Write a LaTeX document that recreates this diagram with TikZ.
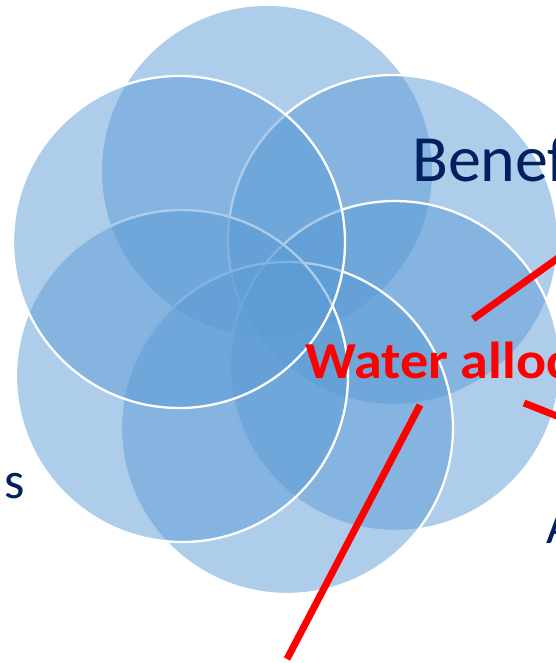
\documentclass[tikz,border=0pt]{standalone}
\usepackage{fontspec}
\setmainfont{Carlito}
\newfontfamily\widebold[FakeStretch=1.08]{Carlito}
\definecolor{petalblue}{HTML}{5B9BD5}
\definecolor{navy}{HTML}{002060}
\begin{document}
\begin{tikzpicture}[x=1pt,y=-1pt,
  petal/.style={fill=petalblue, fill opacity=0.5},
  rim/.style={petal, draw=white, draw opacity=1, line width=2.3pt},
  label/.style={anchor=base west, inner sep=0pt, text=navy},
  redline/.style={draw=red, line width=7pt}]
\useasboundingbox (0,0) rectangle (556,663);
\clip (0,0) rectangle (556,663);
% petals
\path[petal] (267,171) circle[radius=165];
\path[rim] (393,240) circle[radius=165];
\path[rim] (395,366) circle[radius=165];
\path[rim] (287,428) circle[radius=166];
\path[rim] (182,376) circle[radius=166];
\path[rim] (179,242) circle[radius=166];
% labels
\node[label, font=\fontsize{66}{70}\selectfont] (benef) at (412,182) {Benef};
\node[label, font=\fontsize{52}{56}\selectfont] (s) at (4,498) {s};
\node[label, font=\fontsize{52}{56}\selectfont] (a) at (546,543) {A};
\node[label, text=red, font=\widebold\fontsize{52}{56}\bfseries\selectfont] (water) at (305,378) {Water alloc};
% red leader lines
\coordinate (l1a) at (473,319);
\coordinate (l1c) at (600,228);
\coordinate (l2a) at (524,403);
\coordinate (l2b) at (600,433);
\coordinate (l3a) at (420,405);
\coordinate (l3b) at (287,659);
\draw[redline] (l1a) -- (l1c);
\draw[redline] (l2a) -- (l2b);
\draw[redline] (l3a) -- (l3b);
\end{tikzpicture}
\end{document}
